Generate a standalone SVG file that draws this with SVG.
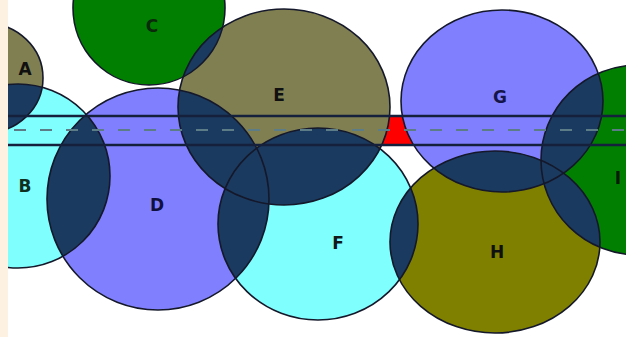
<svg xmlns="http://www.w3.org/2000/svg" xmlns:xlink="http://www.w3.org/1999/xlink" width="626" height="337" viewBox="0 0 626 337">
  <style>
    .olive-grey { fill: #807f52; }
    .olive { fill: #808000; }
    .cyan { fill: #80ffff; }
    .blue { fill: #8080ff; }
    .green { fill: #007f00; }
    .ovl { fill: #1b3a60; }
    .edge { fill: none; stroke: #14182a; stroke-width: 1.6; }
    .label { font-family: "DejaVu Sans", "Liberation Sans", sans-serif; font-weight: bold; font-size: 17px; text-anchor: middle; dominant-baseline: central; }
    .rail { stroke: #15203c; stroke-width: 2.4; }
    .mid { stroke: #5c7c88; stroke-width: 2; stroke-dasharray: 12 14; }
  </style>
  <defs>
    <ellipse id="eA" cx="-15" cy="78" rx="58" ry="55"/>
    <ellipse id="eB" cx="18" cy="176" rx="92" ry="92"/>
    <ellipse id="eC" cx="149" cy="8" rx="76" ry="77"/>
    <ellipse id="eD" cx="158" cy="199" rx="111" ry="111"/>
    <ellipse id="eE" cx="284" cy="107" rx="106" ry="98"/>
    <ellipse id="eF" cx="318" cy="224" rx="100" ry="96"/>
    <ellipse id="eG" cx="502" cy="101" rx="101" ry="91"/>
    <ellipse id="eH" cx="495" cy="242" rx="105" ry="91"/>
    <ellipse id="eI" cx="638" cy="160" rx="97" ry="95"/>
    <clipPath id="cA"><use xlink:href="#eA"/></clipPath>
    <clipPath id="cB"><use xlink:href="#eB"/></clipPath>
    <clipPath id="cC"><use xlink:href="#eC"/></clipPath>
    <clipPath id="cD"><use xlink:href="#eD"/></clipPath>
    <clipPath id="cE"><use xlink:href="#eE"/></clipPath>
    <clipPath id="cF"><use xlink:href="#eF"/></clipPath>
    <clipPath id="cG"><use xlink:href="#eG"/></clipPath>
    <clipPath id="cH"><use xlink:href="#eH"/></clipPath>
    <clipPath id="cI"><use xlink:href="#eI"/></clipPath>
    <clipPath id="frame"><rect x="8" y="0" width="618" height="337"/></clipPath>
  </defs>

  <rect width="626" height="337" fill="#ffffff"/>
  <rect x="0" y="0" width="8" height="337" fill="#fdf2e2"/>

  <g clip-path="url(#frame)">
    <!-- red gap between E and G inside the band -->
    <rect x="378" y="116" width="40" height="29" fill="#ff0000"/>

    <g id="node-A"><use xlink:href="#eA" class="olive-grey"/><text class="label" x="25" y="69" fill="#101010">A</text></g>
    <g id="node-B"><use xlink:href="#eB" class="cyan"/><text class="label" x="25" y="186" fill="#0f2f1f">B</text></g>
    <g id="node-C"><use xlink:href="#eC" class="green"/><text class="label" x="152" y="26" fill="#0b2a0b">C</text></g>
    <g id="node-D"><use xlink:href="#eD" class="blue"/><text class="label" x="157" y="205" fill="#101040">D</text></g>
    <g id="node-E"><use xlink:href="#eE" class="olive-grey"/><text class="label" x="279" y="95" fill="#101010">E</text></g>
    <g id="node-F"><use xlink:href="#eF" class="cyan"/><text class="label" x="338" y="243" fill="#101818">F</text></g>
    <g id="node-G"><use xlink:href="#eG" class="blue"/><text class="label" x="500" y="97" fill="#15154a">G</text></g>
    <g id="node-H"><use xlink:href="#eH" class="olive"/><text class="label" x="497" y="252" fill="#101010">H</text></g>
    <g id="node-I"><use xlink:href="#eI" class="green"/><text class="label" x="618" y="178" fill="#0a1a0a">I</text></g>

    <!-- shared regions: every pairwise intersection is shaded dark -->
    <g id="overlaps" class="ovl">
      <use xlink:href="#eB" clip-path="url(#cA)"/>
      <use xlink:href="#eD" clip-path="url(#cB)"/>
      <use xlink:href="#eD" clip-path="url(#cC)"/>
      <use xlink:href="#eE" clip-path="url(#cC)"/>
      <use xlink:href="#eE" clip-path="url(#cD)"/>
      <use xlink:href="#eF" clip-path="url(#cD)"/>
      <use xlink:href="#eF" clip-path="url(#cE)"/>
      <use xlink:href="#eH" clip-path="url(#cF)"/>
      <use xlink:href="#eH" clip-path="url(#cG)"/>
      <use xlink:href="#eI" clip-path="url(#cG)"/>
      <use xlink:href="#eI" clip-path="url(#cH)"/>
    </g>

    <g id="outlines" class="edge">
      <use xlink:href="#eA"/><use xlink:href="#eB"/><use xlink:href="#eC"/>
      <use xlink:href="#eD"/><use xlink:href="#eE"/><use xlink:href="#eF"/>
      <use xlink:href="#eG"/><use xlink:href="#eH"/><use xlink:href="#eI"/>
    </g>

    <g id="connectors">
      <line class="rail" x1="8" y1="116" x2="626" y2="116"/>
      <line class="mid" x1="14" y1="130" x2="626" y2="130"/>
      <line class="rail" x1="8" y1="145" x2="626" y2="145"/>
    </g>
  </g>
</svg>
